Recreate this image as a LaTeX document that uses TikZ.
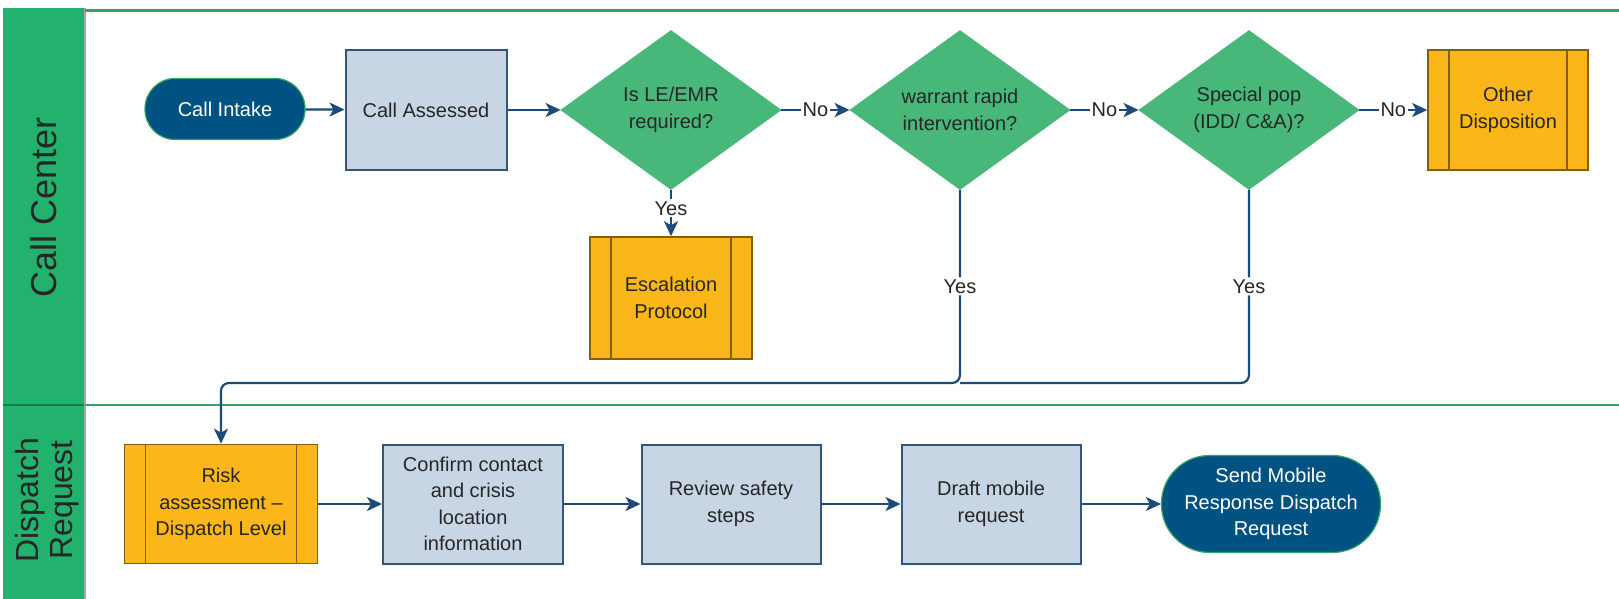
\documentclass[tikz,border=0pt]{standalone}
\usepackage{fontspec}
\setmainfont{Liberation Sans}
\usetikzlibrary{shapes.geometric,arrows.meta,calc}
\definecolor{lanegreen}{RGB}{35,178,110}
\definecolor{diagreen}{RGB}{72,184,122}
\definecolor{linegreen}{RGB}{50,165,100}
\definecolor{navy}{RGB}{0,82,130}
\definecolor{boxblue}{RGB}{200,213,228}
\definecolor{boxedge}{RGB}{50,85,120}
\definecolor{orangebox}{RGB}{251,182,26}
\definecolor{orangeedge}{RGB}{130,95,10}
\definecolor{arrowblue}{RGB}{28,75,120}
\begin{document}
\begin{tikzpicture}[x=0.5pt,y=-0.5pt,
  font=\fontsize{10}{13.2}\selectfont,
  term/.style={rectangle, rounded corners=15pt, fill=navy, draw=linegreen, line width=0.6pt, text=white, align=center, inner sep=0pt},
  proc/.style={rectangle, fill=boxblue, draw=boxedge, line width=1pt, align=center, inner sep=0pt, text=black!85},
  sub/.style={rectangle, fill=orangebox, draw=orangeedge, line width=0.8pt, align=center, inner sep=0pt, text=black!85,
    path picture={\draw[orangeedge, line width=0.8pt]
      ([xshift=10.5pt]path picture bounding box.north west) -- ([xshift=10.5pt]path picture bounding box.south west)
      ([xshift=-10.5pt]path picture bounding box.north east) -- ([xshift=-10.5pt]path picture bounding box.south east);}},
  dec/.style={diamond, fill=diagreen, draw=diagreen, align=center, inner sep=0pt, text=black!85, minimum width=110pt, minimum height=79.5pt},
  conn/.style={draw=arrowblue, line width=1.1pt},
  arr/.style={conn, -{Stealth[length=7.5pt,width=7pt,inset=2pt]}},
  lbl/.style={fill=white, inner sep=1pt, text=black!85},
]
\useasboundingbox (0,0) rectangle (1619,599);
\fill[white] (0,0) rectangle (1619,599);
% lanes
\fill[lanegreen] (3,8) rectangle (85,599);
\draw[lanegreen!70!black, line width=0.8pt] (3,405) -- (85,405);
\draw[gray!70, line width=0.6pt] (85,8) -- (85,599);
\draw[linegreen, line width=1.5pt] (85,11) -- (1619,11);
\draw[linegreen, line width=1.2pt] (85,405) -- (1619,405);
\node[rotate=90, font=\fontsize{18}{20}\selectfont, text=black!85] (lane1) at (44,207) {Call Center};
\node[rotate=90, align=center, font=\fontsize{16}{17}\selectfont, text=black!85] (lane2) at (47,500) {Dispatch\\Request};
% nodes
\node[term, minimum width=80pt, minimum height=30.5pt] (intake) at (225,109) {Call Intake};
\node[proc, minimum width=80.5pt, minimum height=60pt] (assessed) at (426,110) {Call Assessed};
\node[dec] (d1) at (671,110) {Is LE/EMR\\required?};
\node[dec] (d2) at (960,110) {warrant rapid\\intervention?};
\node[dec] (d3) at (1249,110) {Special pop\\(IDD/ C\&A)?};
\node[sub, minimum width=80pt, minimum height=60pt] (other) at (1508,110) {Other\\Disposition};
\node[sub, minimum width=81pt, minimum height=61pt] (escal) at (671,298) {Escalation\\Protocol};
\node[sub, minimum width=96.5pt, minimum height=59.5pt] (risk) at (221,504) {Risk\\assessment –\\Dispatch Level};
\node[proc, minimum width=90pt, minimum height=59.5pt] (confirm) at (473,504) {Confirm contact\\and crisis\\location\\information};
\node[proc, minimum width=89.5pt, minimum height=59.5pt] (review) at (731,504) {Review safety\\steps};
\node[proc, minimum width=89.5pt, minimum height=59.5pt] (draft) at (991,504) {Draft mobile\\request};
\node[term, rounded corners=24pt, minimum width=109.5pt, minimum height=48.5pt] (send) at (1271,504) {Send Mobile\\Response Dispatch\\Request};
% connectors
\draw[arr] (intake) -- (assessed);
\draw[arr] (assessed) -- (d1);
\draw[arr] (d1) -- node[lbl]{No} (d2);
\draw[arr] (d2) -- node[lbl]{No} (d3);
\draw[arr] (d3) -- node[lbl]{No} (other);
\draw[arr] (d1) -- node[lbl, pos=0.4]{Yes} (escal);
\coordinate (bus) at (960,383);
\draw[arr, rounded corners=4pt] (d2.south) -- node[lbl]{Yes} (bus) -| (risk.north);
\draw[conn, rounded corners=4pt] (d3.south) -- node[lbl]{Yes} (d3.south |- bus) -- (bus);
\draw[arr] (risk) -- (confirm);
\draw[arr] (confirm) -- (review);
\draw[arr] (review) -- (draft);
\draw[arr] (draft) -- (send);
\end{tikzpicture}
\end{document}
